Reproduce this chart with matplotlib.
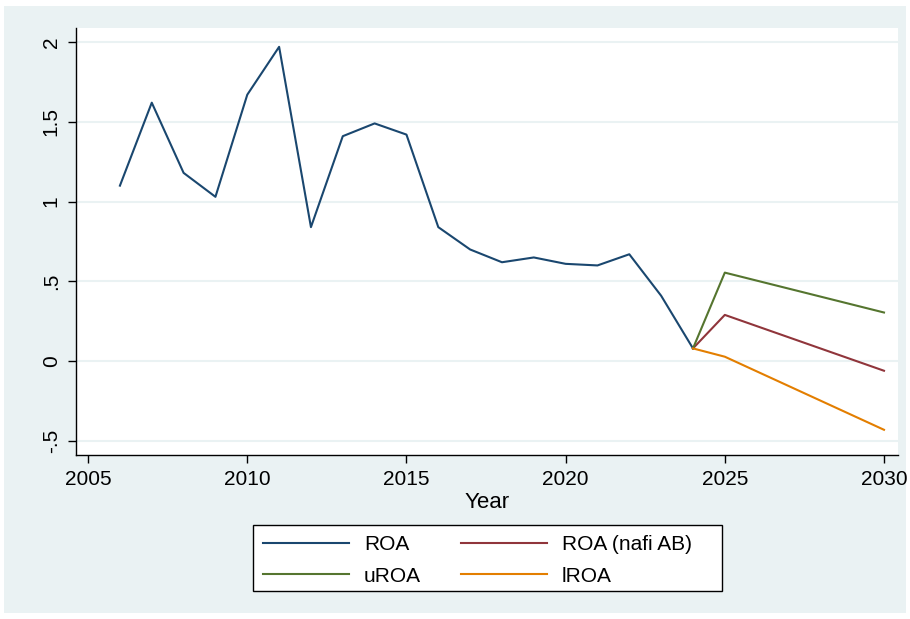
import matplotlib.pyplot as plt
from matplotlib.patches import Rectangle

plt.rcParams['font.family'] = ['Liberation Sans', 'DejaVu Sans']

years = [2006, 2007, 2008, 2009, 2010, 2011, 2012, 2013, 2014, 2015,
         2016, 2017, 2018, 2019, 2020, 2021, 2022, 2023, 2024]
roa = [1.10, 1.62, 1.18, 1.03, 1.67, 1.97, 0.84, 1.41, 1.49, 1.42,
       0.84, 0.70, 0.62, 0.65, 0.61, 0.60, 0.67, 0.41, 0.08]

fc_years = [2024, 2025, 2030]
roa_ab = [0.08, 0.29, -0.06]
uroa = [0.08, 0.555, 0.305]
lroa = [0.08, 0.028, -0.43]

yticks = [-0.5, 0, 0.5, 1, 1.5, 2]
ylabels = ['-.5', '0', '.5', '1', '1.5', '2']
xticks = [2005, 2010, 2015, 2020, 2025, 2030]

bg = '#eaf2f3'
W, H = 910, 619
fig = plt.figure(figsize=(9.1, 6.19), dpi=100)
fig.patch.set_facecolor('white')
fig.patches.append(Rectangle((4 / W, 6 / H), 902 / W, 607 / H,
                             transform=fig.transFigure, facecolor=bg,
                             edgecolor='none', zorder=-10))

ax = fig.add_axes([76 / W, 1 - 455 / H, 822 / W, 427 / H])
ax.set_facecolor('white')

ax.plot(years, roa, color='#1a476f', lw=1.5, label='ROA')
ax.plot(fc_years, roa_ab, color='#90353b', lw=1.5, label='ROA (nafi AB)')
ax.plot(fc_years, uroa, color='#55752f', lw=1.5, label='uROA')
ax.plot(fc_years, lroa, color='#e37e00', lw=1.5, label='lROA')

ax.set_xlim(2004.62, 2030.44)
ax.set_ylim(-0.588, 2.088)
ax.set_yticks(yticks)
ax.set_yticklabels(ylabels, rotation=90, va='center', fontsize=15)
ax.set_xticks(xticks)
ax.set_xticklabels([str(x) for x in xticks], fontsize=15)
ax.tick_params(length=6, width=1, color='black', pad=5)
ax.grid(axis='y', color=bg, lw=1.5)
ax.set_axisbelow(True)
for s in ['top', 'right']:
    ax.spines[s].set_visible(False)
for s in ['left', 'bottom']:
    ax.spines[s].set_linewidth(1)
ax.set_xlabel('Year', fontsize=16, labelpad=2)

# legend box (Stata style: wide frame with extra right padding)
fig.patches.append(Rectangle((253 / W, 1 - 591 / H), 469 / W, 66 / H,
                             transform=fig.transFigure, facecolor='white',
                             edgecolor='black', lw=1, zorder=5))
handles, labels = ax.get_legend_handles_labels()
order = [0, 2, 1, 3]
leg = fig.legend([handles[i] for i in order], [labels[i] for i in order],
                 ncol=2, loc='upper left', bbox_to_anchor=(263 / W, 1 - 535 / H),
                 fontsize=15, frameon=False, handlelength=4.13,
                 columnspacing=1.9, handletextpad=0.72, borderpad=0,
                 borderaxespad=0, labelspacing=0.6)
leg.set_zorder(6)

fig.savefig('out.png', dpi=100, facecolor=fig.get_facecolor())
